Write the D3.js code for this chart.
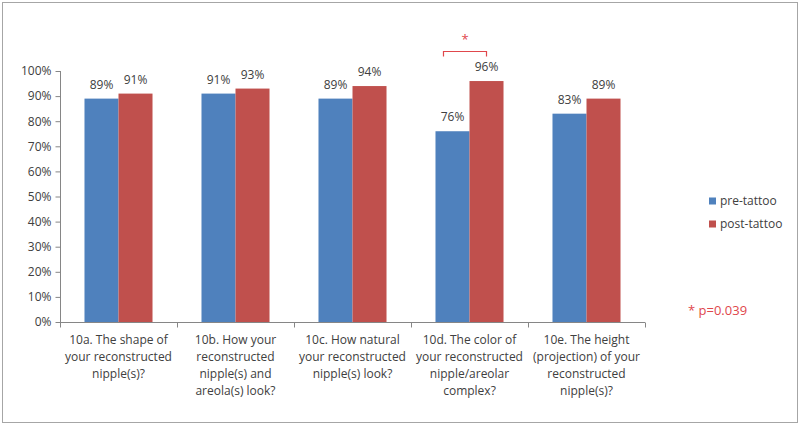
<!DOCTYPE html>
<html lang="en">
<head>
    <meta charset="UTF-8">
    <title>Nipple tattoo satisfaction</title>
    <style>
        body { margin: 0; background: #fff; }
        text { font-family: "Open Sans", "Liberation Sans", sans-serif; fill: #404040; }
    </style>
</head>
<body>
<script src='https://d3js.org/d3.v7.min.js' type='text/javascript'></script>
<script>
    var categories = [
        ["10a. The shape of", "your reconstructed", "nipple(s)?"],
        ["10b. How your", "reconstructed", "nipple(s) and", "areola(s) look?"],
        ["10c. How natural", "your reconstructed", "nipple(s) look?"],
        ["10d. The color of", "your reconstructed", "nipple/areolar", "complex?"],
        ["10e. The height", "(projection) of your", "reconstructed", "nipple(s)?"]
    ];
    var series = ["pre-tattoo", "post-tattoo"];
    var preTattoo = [89, 91, 89, 76, 83];
    var postTattoo = [91, 93, 94, 96, 89];
    var yTicks = [0, 10, 20, 30, 40, 50, 60, 70, 80, 90, 100];
    var sigIndex = 3;
    var sigNote = "* p=0.039";

    const width = 800;
    const height = 426;
    const colors = ["#4f81bd", "#c0504d"];

    const svg = d3.select("body")
        .append("svg")
        .attr("width", width)
        .attr("height", height);

    // outer frame
    svg.append("rect")
        .attr("x", 2.5).attr("y", 2.5)
        .attr("width", 795).attr("height", 420)
        .attr("fill", "none")
        .attr("stroke", "#a6a6a6");

    const plotLeft = 60, plotRight = 645, plotTop = 71, plotBottom = 322;

    const x = d3.scaleBand()
        .domain(d3.range(categories.length))
        .range([plotLeft, plotRight])
        .paddingInner(0)
        .paddingOuter(0);
    const xInner = d3.scaleBand()
        .domain(series)
        .range([0, x.bandwidth()])
        .paddingInner(0)
        .paddingOuter(0.72);
    const y = d3.scaleLinear().domain([0, 100]).range([plotBottom, plotTop]);

    // y axis
    const yAxis = svg.append("g")
        .attr("transform", "translate(" + (plotLeft + 0.5) + ",0)")
        .call(d3.axisLeft(y).tickValues(yTicks).tickSize(5).tickPadding(4)
            .tickFormat(function (d) { return d + "%"; }));
    yAxis.selectAll("path, line").attr("stroke", "#868686");
    yAxis.select(".domain").attr("d", "M0," + plotTop + "V" + plotBottom);
    yAxis.selectAll("text").attr("font-size", 12).style("fill", "#404040")
        .attr("font-family", "'Open Sans', sans-serif");

    // x axis
    const xAxisG = svg.append("g")
        .attr("transform", "translate(0," + (plotBottom + 0.5) + ")");
    xAxisG.append("line")
        .attr("x1", plotLeft).attr("x2", plotRight)
        .attr("stroke", "#868686");
    xAxisG.selectAll(".tk")
        .data(d3.range(categories.length + 1))
        .enter().append("line")
        .attr("x1", function (i) { return (i < categories.length ? x(i) : plotRight) + 0.5; })
        .attr("x2", function (i) { return (i < categories.length ? x(i) : plotRight) + 0.5; })
        .attr("y1", 0).attr("y2", 5)
        .attr("stroke", "#868686");

    // bars
    const data = categories.map(function (c, i) {
        return [preTattoo[i], postTattoo[i]];
    });
    const groups = svg.selectAll(".grp")
        .data(data)
        .enter().append("g")
        .attr("transform", function (d, i) { return "translate(" + x(i) + ",0)"; });

    groups.selectAll("rect")
        .data(function (d) { return d.map(function (v, k) { return { key: series[k], value: v, k: k }; }); })
        .enter().append("rect")
        .attr("x", function (d) { return xInner(d.key); })
        .attr("y", function (d) { return y(d.value); })
        .attr("width", xInner.bandwidth())
        .attr("height", function (d) { return plotBottom - y(d.value); })
        .attr("fill", function (d) { return colors[d.k]; });

    groups.selectAll(".lbl")
        .data(function (d) { return d.map(function (v, k) { return { key: series[k], value: v }; }); })
        .enter().append("text")
        .attr("x", function (d) { return xInner(d.key) + xInner.bandwidth() / 2; })
        .attr("y", function (d) { return y(d.value) - 10; })
        .attr("text-anchor", "middle")
        .attr("font-size", 12)
        .text(function (d) { return d.value + "%"; });

    // category labels
    categories.forEach(function (lines, i) {
        const t = svg.append("text")
            .attr("text-anchor", "middle")
            .attr("font-size", 12)
            .attr("x", x(i) + x.bandwidth() / 2)
            .attr("y", plotBottom + 22);
        lines.forEach(function (ln, j) {
            t.append("tspan")
                .attr("x", x(i) + x.bandwidth() / 2)
                .attr("dy", j === 0 ? 0 : 17)
                .text(ln);
        });
    });

    // significance bracket
    const sigRed = "#e0474c";
    const bx0 = x(sigIndex) + xInner(series[0]) + 8;
    const bx1 = x(sigIndex) + xInner(series[1]) + xInner.bandwidth() / 2;
    const by = y(100) - 19.5;
    svg.append("path")
        .attr("d", "M" + bx0 + "," + (by + 5) + "V" + by + "H" + bx1 + "V" + (by + 5))
        .attr("fill", "none")
        .attr("stroke", sigRed)
        .attr("stroke-width", 1.2);
    svg.append("text")
        .attr("x", (bx0 + bx1) / 2)
        .attr("y", by - 8)
        .attr("text-anchor", "middle")
        .attr("font-size", 13)
        .style("fill", sigRed)
        .text("*");

    // legend
    const legend = svg.selectAll(".leg")
        .data(series)
        .enter().append("g")
        .attr("transform", function (d, i) { return "translate(709," + (201 + i * 23) + ")"; });
    legend.append("rect")
        .attr("x", 0).attr("y", -3.5)
        .attr("width", 7).attr("height", 7)
        .attr("fill", function (d, i) { return colors[i]; });
    legend.append("text")
        .attr("x", 11).attr("y", 4)
        .attr("font-size", 12)
        .text(function (d) { return d; });

    svg.append("text")
        .attr("x", 688).attr("y", 315)
        .attr("font-size", 13)
        .style("fill", sigRed)
        .text(sigNote);
</script>
</body>
</html>
